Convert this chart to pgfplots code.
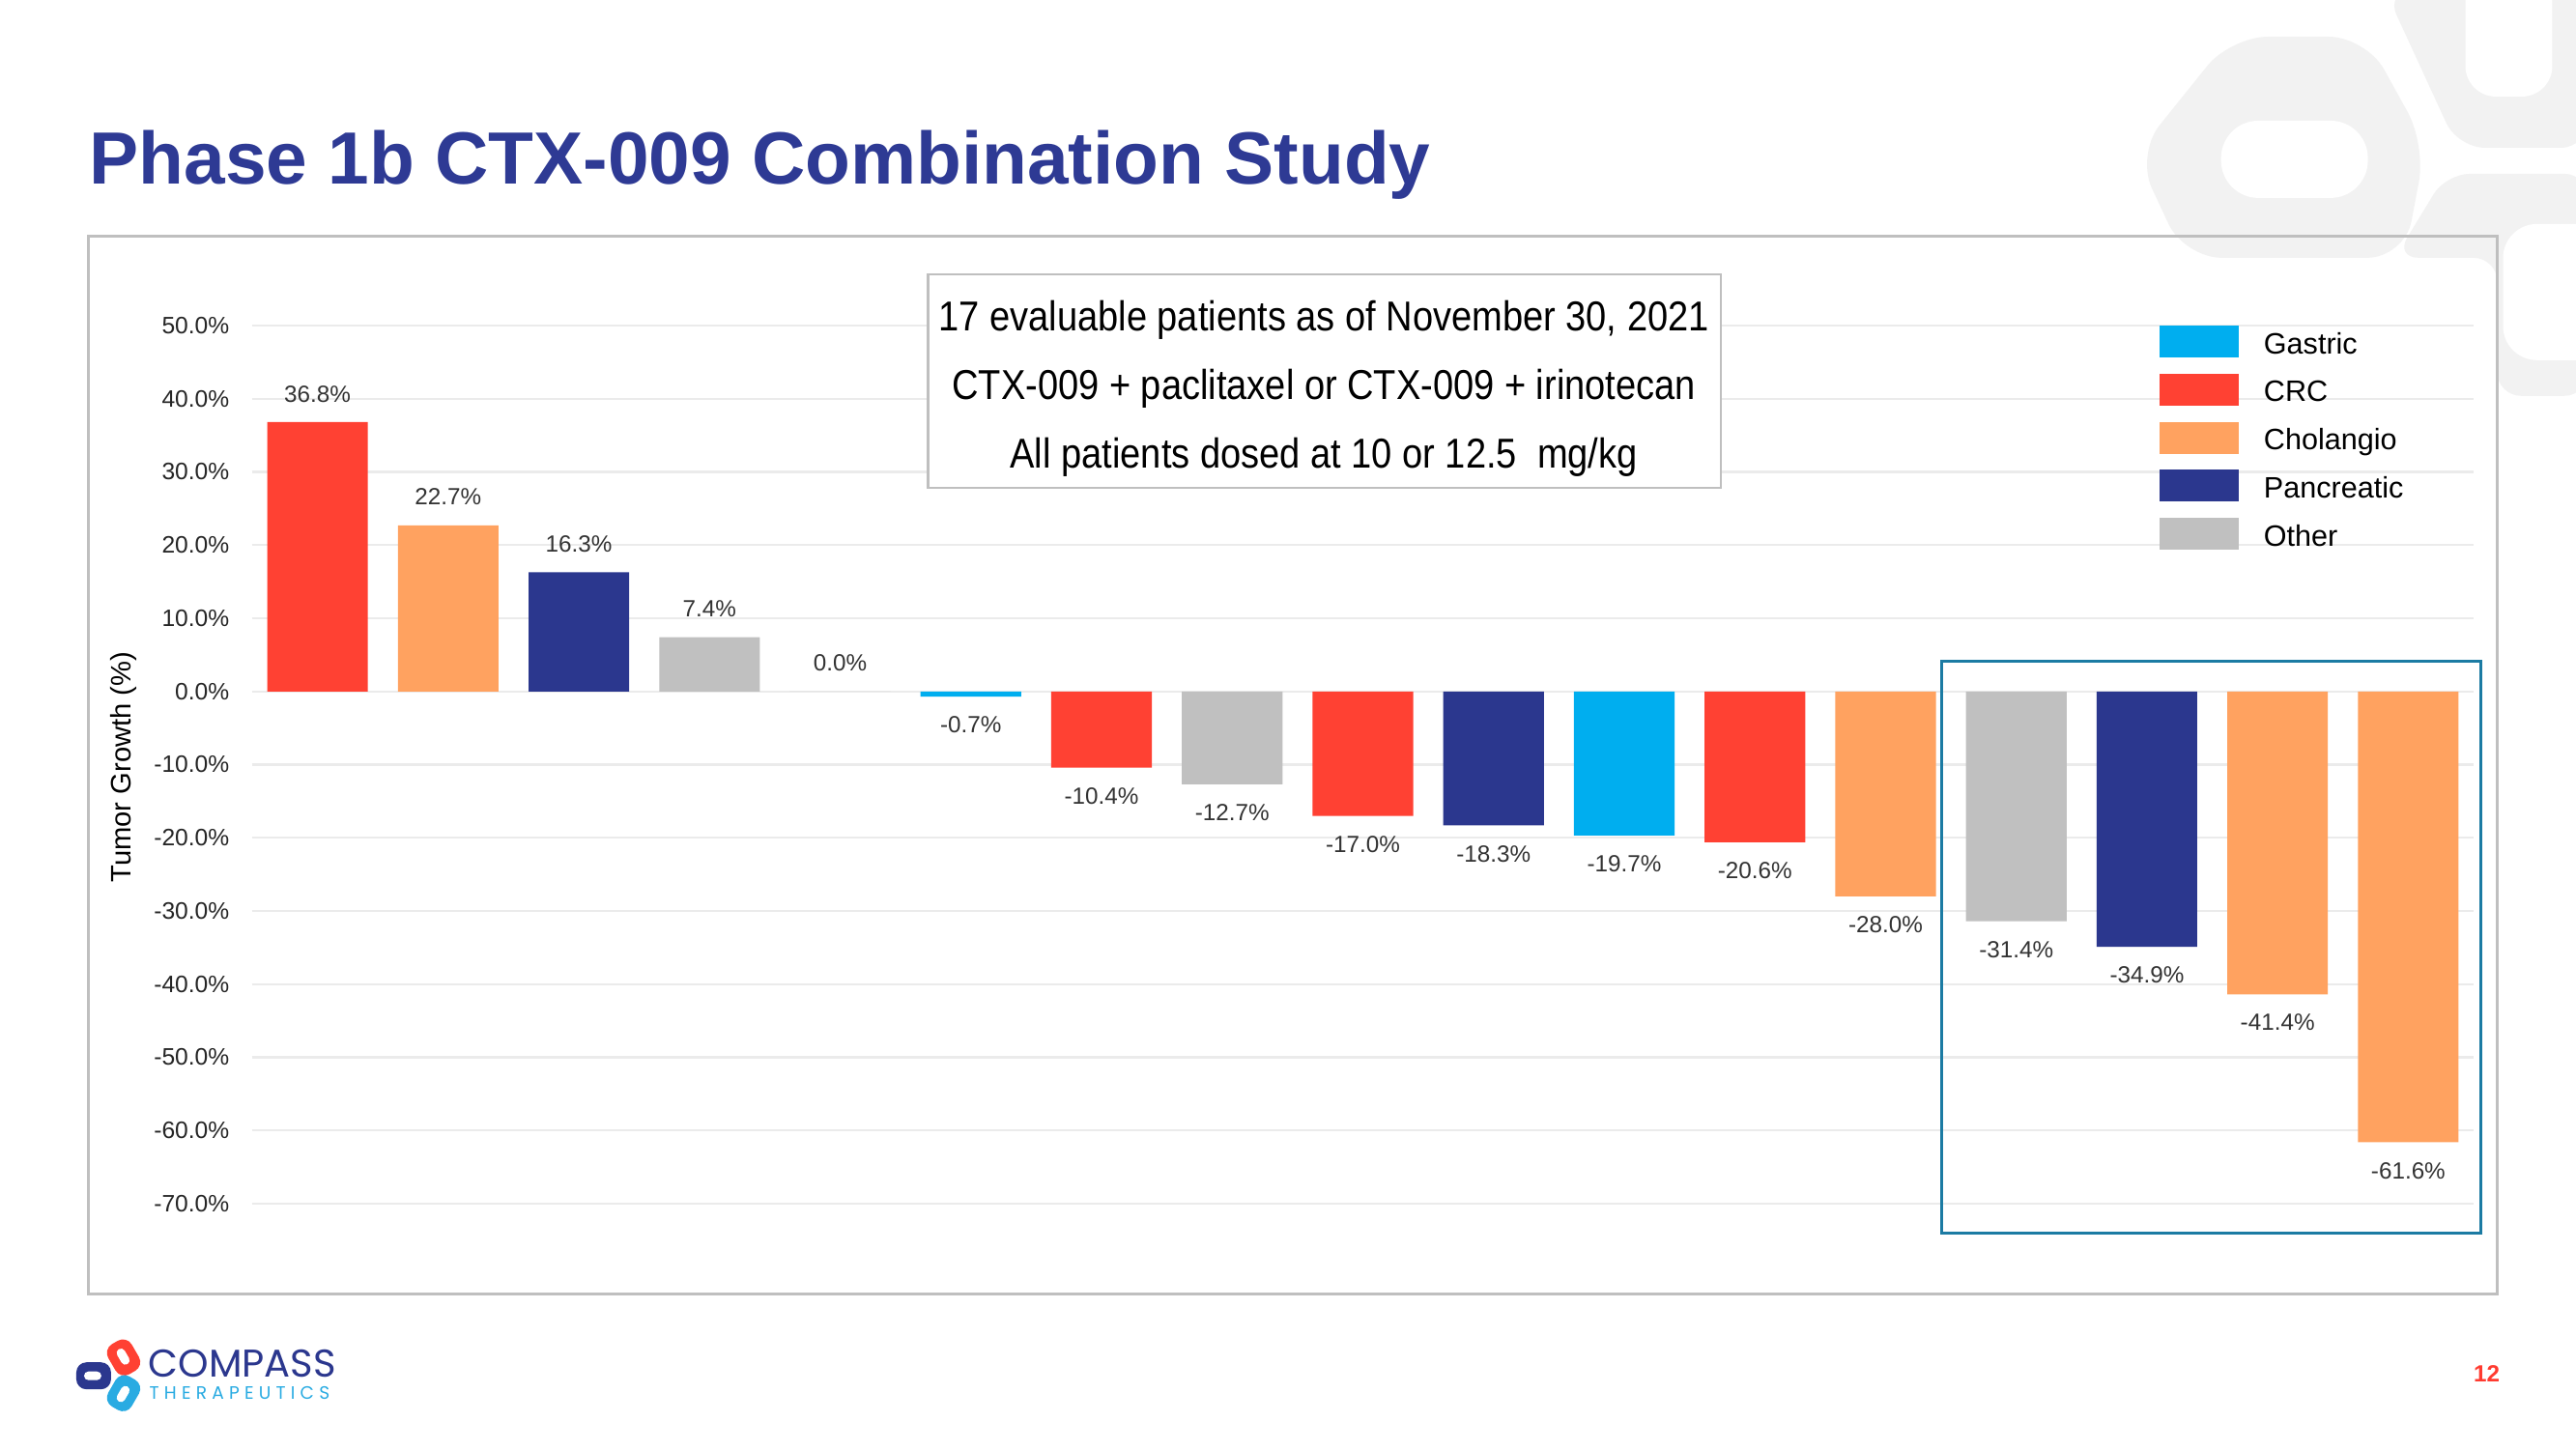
\documentclass[border=0pt]{standalone}
\usepackage{pgfplots}
\pgfplotsset{compat=1.18}
\usepackage{fontspec}
\setmainfont{Liberation Sans}
\newfontfamily\boxfont{Liberation Sans}[FakeStretch=0.88]
\newfontfamily\logofont{Poppins}
\newfontfamily\logosmall{Poppins}[LetterSpace=28]

\definecolor{gastric}{HTML}{00AEEF}
\definecolor{crc}{HTML}{FF4133}
\definecolor{cholangio}{HTML}{FFA260}
\definecolor{pancreatic}{HTML}{2B378E}
\definecolor{other}{HTML}{C0C0C0}
\definecolor{titleblue}{HTML}{2E3A94}
\definecolor{framegray}{HTML}{BFBFBF}
\definecolor{gridgray}{HTML}{EBEBEB}
\definecolor{hlteal}{HTML}{1C7BA3}
\definecolor{wm}{HTML}{F2F2F2}
\definecolor{pagered}{HTML}{FF3B30}
\definecolor{logocyan}{HTML}{29ABE2}

\pgfplotsset{
  mybar/.style={fill=#1, draw=none, bar shift=0pt,
    legend image code/.code={\fill[#1] (0cm,-0.165cm) rectangle (0.82cm,0.165cm);}},
}

\begin{document}
\begin{tikzpicture}
\useasboundingbox (0,0) rectangle (26.66cm,-15cm);
\fill[white] (0,0) rectangle (26.66cm,-15cm);

% watermark, pixel coordinates (1px = 0.01cm = 0.2845pt)
\begin{scope}[x=0.01cm,y=-0.01cm]
  \fill[wm, rounded corners=11pt] (2310,38) -- (2450,38) -- (2512,150) -- (2490,267) -- (2262,267) -- (2212,160) -- cycle;
  \fill[white, rounded corners=11pt] (2300,125) rectangle (2452,205);
  \fill[wm, rounded corners=8pt] (2470,-10) -- (2680,-10) -- (2680,153) -- (2545,153) -- cycle;
  \fill[white, rounded corners=9pt] (2553,-40) rectangle (2643,100);
  \fill[wm, rounded corners=7pt] (2533,180) -- (2680,180) -- (2680,410) -- (2586,410) -- (2586,267) -- (2480,267) -- cycle;
  \fill[white, rounded corners=10pt] (2592,232) rectangle (2720,373);
  \draw[framegray, line width=0.85pt] (92,245) rectangle (2586,1340);
\end{scope}

\begin{axis}[
  at={(2.61cm,-12.46cm)}, anchor=south west,
  scale only axis, width=22.99cm, height=9.09cm,
  xmin=-0.5, xmax=16.5, ymin=-70, ymax=50,
  enlargelimits=false, clip=false,
  axis line style={draw=none},
  xtick=\empty,
  ytick={-70,-60,...,50},
  major tick length=0pt,
  ymajorgrids, grid style={gridgray, line width=0.6pt},
  /pgf/number format/assume math mode=true,
  yticklabel={\pgfmathprintnumber[fixed,fixed zerofill,precision=1]{\tick}\%},
  yticklabel style={font=\fontsize{7}{8}\selectfont, text=black!85, anchor=east, inner sep=0pt, xshift=-0.23cm},
  ylabel={Tumor Growth (\%)},
  every axis y label/.style={at={(axis description cs:-0.0579,0.497)}, rotate=90, anchor=center, font=\fontsize{8.3}{10}\selectfont},
  ybar, bar width=0.77,
  nodes near coords={\pgfmathprintnumber[fixed,fixed zerofill,precision=1]{\pgfplotspointmeta}\%},
  nodes near coords align=vertical,
  every node near coord/.append style={font=\fontsize{6.9}{8}\selectfont, text=black!80, inner xsep=0pt, inner ysep=0.2cm},
  legend cell align=left,
  legend style={at={(axis description cs:0.8586,1)}, anchor=north west, draw=none, fill=none,
    inner sep=0pt, outer sep=0pt, row sep=0.1675cm, column sep=0.26cm,
    font=\fontsize{8.7}{10}\selectfont,
    nodes={inner sep=0pt, text height=0.72em, text depth=0pt}},
]
% index 0..16 in the order of the waterfall
\addplot[mybar=gastric] coordinates {(5,-0.7) (10,-19.7)};
\addlegendentry{Gastric}
\addplot[mybar=crc] coordinates {(0,36.8) (6,-10.4) (8,-17.0) (11,-20.6)};
\addlegendentry{CRC}
\addplot[mybar=cholangio] coordinates {(1,22.7) (12,-28.0) (15,-41.4) (16,-61.6)};
\addlegendentry{Cholangio}
\addplot[mybar=pancreatic] coordinates {(2,16.3) (9,-18.3) (14,-34.9)};
\addlegendentry{Pancreatic}
\addplot[mybar=other] coordinates {(3,7.4) (4,0.0) (7,-12.7) (13,-31.4)};
\addlegendentry{Other}
\end{axis}

\begin{scope}[x=0.01cm,y=-0.01cm]
  % info box
  \draw[framegray, fill=white, line width=0.6pt] (961,284) rectangle (1782,505);
  \node[anchor=base, inner sep=0pt, font=\boxfont\fontsize{12.3}{14}\selectfont] at (1371,343) {17 evaluable patients as of November 30, 2021};
  \node[anchor=base, inner sep=0pt, font=\boxfont\fontsize{12.3}{14}\selectfont] at (1371,414) {CTX-009 + paclitaxel or CTX-009 + irinotecan};
  \node[anchor=base, inner sep=0pt, font=\boxfont\fontsize{12.3}{14}\selectfont] at (1371,485) {All patients dosed at 10 or 12.5\ \ mg/kg};
  % highlight
  \draw[hlteal, line width=0.8pt] (2011,685) rectangle (2569,1277);
  % title
  \node[anchor=base west, inner sep=0pt, text=titleblue, font=\fontsize{21.8}{26}\selectfont\bfseries] at (92,191) {Phase 1b CTX-009 Combination Study};
  % logo
  \foreach \cx/\cy/\ang/\col in {97/1425/0/pancreatic, 128/1406/-60/crc, 128/1443/60/logocyan} {
    \begin{scope}[shift={(\cx,\cy)}, rotate=\ang]
      \fill[\col, rounded corners=3pt] (-18,-14) rectangle (18,14);
      \fill[white, rounded corners=1.3pt] (-10,-4.5) rectangle (8,4.5);
    \end{scope}
  }
  \node[anchor=base west, inner sep=0pt, text=pancreatic, font=\logofont\fontsize{11.4}{12}\selectfont] at (153,1426) {COMPASS};
  \node[anchor=base west, inner sep=0pt, text=logocyan, font=\logosmall\fontsize{5.3}{6}\selectfont] at (154,1449) {THERAPEUTICS};
  % page number
  \node[anchor=center, inner sep=0pt, text=pagered, font=\bfseries\fontsize{6.9}{8}\selectfont] at (2575,1423) {12};
\end{scope}
\end{tikzpicture}
\end{document}
